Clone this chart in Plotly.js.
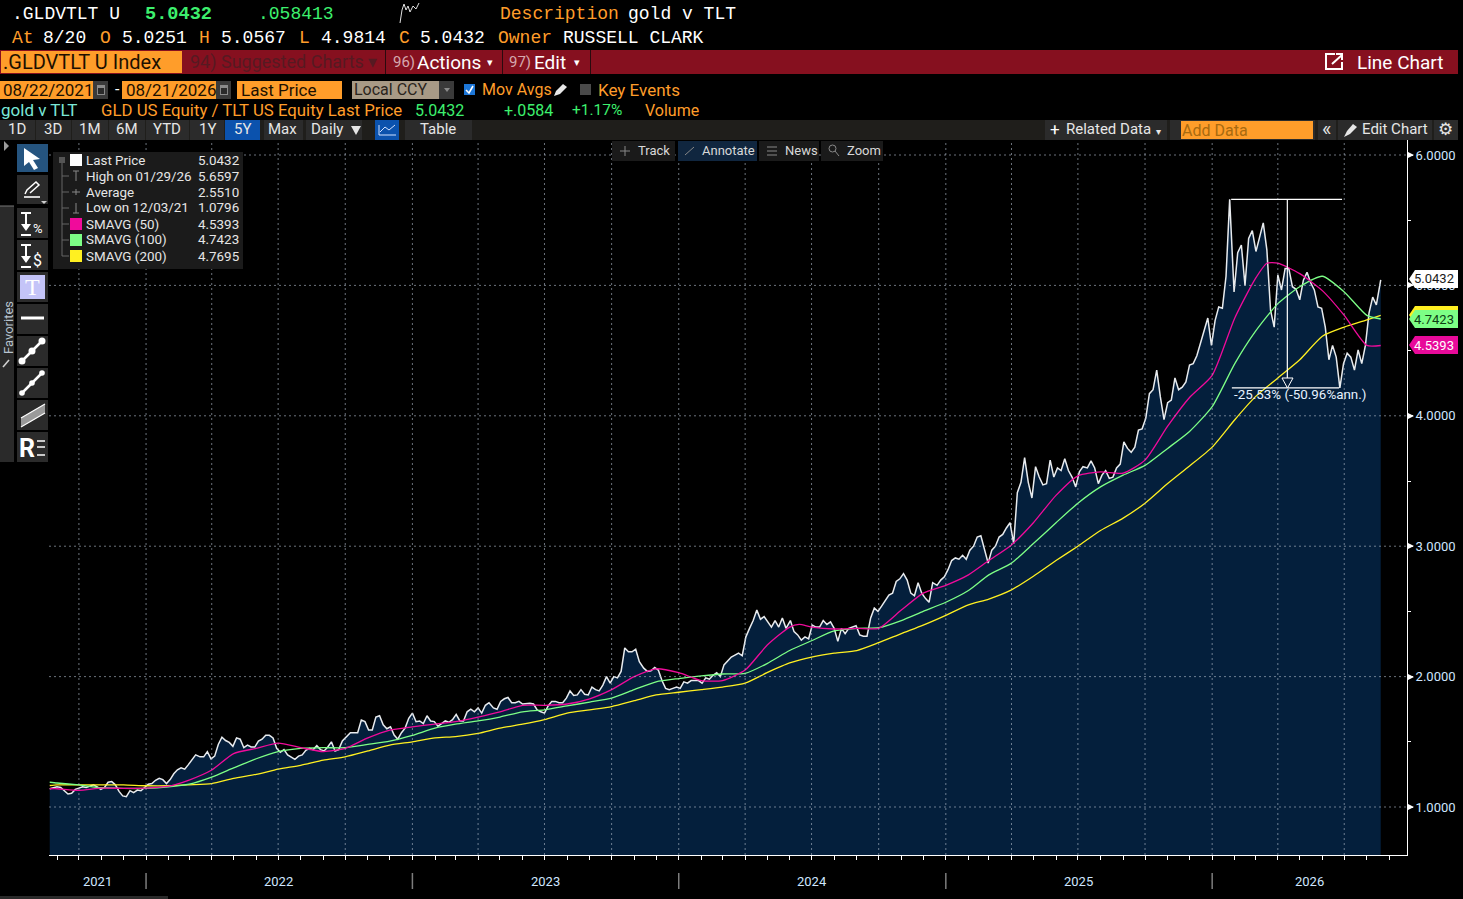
<!DOCTYPE html>
<html><head><meta charset="utf-8">
<script src="https://cdn.plot.ly/plotly-3.0.1.min.js"></script>
<style>html,body{margin:0;padding:0;background:#000;overflow:hidden}#c{width:1463px;height:899px}</style>
</head><body><div id="c"></div>
<script>
const startDate = '2021-08-22', endDate = '2026-08-20';
const priceValues = [
1.14,1.145,1.155,1.15,1.125,1.10,1.105,1.135,1.145,1.155,1.15,1.16,1.17,1.155,1.135,1.15,1.19,1.195,1.17,1.12,1.085,1.0796,1.125,1.11,1.13,1.125,1.15,1.175,1.18,1.205,1.22,1.21,1.18,1.21,1.255,1.285,1.30,1.29,1.325,1.36,1.40,1.385,1.385,1.425,1.37,1.39,1.48,1.535,1.51,1.495,1.465,1.53,1.52,1.455,1.475,1.46,1.46,1.505,1.52,1.55,1.55,1.53,1.45,1.42,1.44,
1.40,1.38,1.365,1.39,1.40,1.435,1.45,1.44,1.47,1.44,1.43,1.46,1.50,1.43,1.44,1.506,1.54,1.57,1.57,1.57,1.667,1.655,1.59,1.59,1.69,1.70,1.63,1.60,1.615,1.552,1.52,1.57,1.605,1.68,1.72,1.654,1.66,1.64,1.70,1.66,1.655,1.62,1.64,1.66,1.65,1.67,1.71,1.66,1.66,1.73,1.75,1.73,1.76,1.72,1.78,1.80,1.76,1.75,1.81,1.83,1.84,1.80,1.80,1.81,
1.79,1.795,1.795,1.79,1.745,1.73,1.72,1.775,1.81,1.81,1.80,1.80,1.835,1.89,1.855,1.86,1.90,1.865,1.86,1.92,1.90,1.89,1.935,2.0,1.95,2.0,1.99,2.04,2.22,2.19,2.19,2.21,2.115,2.065,2.04,2.045,2.07,2.05,1.97,1.91,1.90,1.91,1.92,1.91,1.96,1.95,1.97,1.97,1.97,1.95,1.99,1.98,2.01,2.03,2.0,2.09,2.12,2.15,2.165,2.18,
2.16,2.305,2.37,2.43,2.51,2.44,2.46,2.42,2.38,2.43,2.38,2.45,2.37,2.43,2.345,2.32,2.28,2.305,2.29,2.395,2.38,2.38,2.43,2.40,2.42,2.37,2.27,2.37,2.33,2.37,2.38,2.39,2.32,2.31,2.31,2.45,2.525,2.50,2.54,2.58,2.625,2.64,2.73,2.75,2.79,2.74,2.64,2.62,2.72,2.64,2.60,2.57,2.72,2.70,2.74,2.765,2.82,
2.89,2.91,2.90,2.93,2.90,2.97,3.0,3.07,3.08,2.97,2.87,2.97,3.0,3.07,3.09,3.14,3.18,3.02,3.41,3.49,3.68,3.49,3.37,3.61,3.53,3.47,3.48,3.66,3.53,3.6,3.58,3.67,3.58,3.53,3.455,3.57,3.61,3.60,3.655,3.60,3.48,3.545,3.58,3.52,3.53,3.60,3.63,3.80,3.75,3.72,3.76,3.89,3.90,3.98,4.17,
4.20,4.35,4.145,3.97,4.10,4.12,4.29,4.20,4.22,4.26,4.39,4.40,4.46,4.555,4.66,4.75,4.54,4.73,4.835,4.825,5.07,5.6597,4.95,5.25,5.31,5.00,5.36,5.42,5.26,5.36,5.48,5.27,4.81,4.68,5.08,4.965,5.13,5.13,4.99,4.97,4.89,5.04,5.10,5.02,4.965,4.835,4.825,4.68,4.43,4.54,4.45,4.2148,4.40,4.48,4.45,4.35,4.505,4.40,4.54,4.79,4.91,4.85,5.0432];

const smaDates = ['2021-08-22','2021-09-01','2021-10-01','2021-11-01','2021-12-01',
'2022-01-01','2022-02-01','2022-03-01','2022-04-01','2022-05-01','2022-06-01','2022-07-01','2022-08-01','2022-09-01','2022-10-01','2022-11-01','2022-12-01',
'2023-01-01','2023-02-01','2023-03-01','2023-04-01','2023-05-01','2023-06-01','2023-07-01','2023-08-01','2023-09-01','2023-10-01','2023-11-01','2023-12-01',
'2024-01-01','2024-02-01','2024-03-01','2024-04-01','2024-05-01','2024-06-01','2024-07-01','2024-08-01','2024-09-01','2024-10-01','2024-11-01','2024-12-01',
'2025-01-01','2025-02-01','2025-03-01','2025-04-01','2025-05-01','2025-06-01','2025-07-01','2025-08-01','2025-09-01','2025-10-01','2025-11-01','2025-12-01',
'2026-01-01','2026-02-01','2026-03-01','2026-04-01','2026-05-01','2026-06-01','2026-07-01','2026-08-01','2026-08-20'];
const sma100Values = [1.19,1.184,1.169,1.148,1.143,
1.143,1.155,1.176,1.23,1.30,1.37,1.425,1.45,1.455,1.455,1.48,1.506,
1.55,1.605,1.635,1.66,1.69,1.73,1.745,1.775,1.805,1.835,1.90,1.96,
1.985,2.005,2.02,2.025,2.10,2.20,2.275,2.35,2.37,2.375,2.43,2.50,
2.57,2.66,2.78,2.87,3.02,3.18,3.33,3.455,3.545,3.62,3.75,3.88,
4.07,4.40,4.645,4.86,4.99,5.07,4.95,4.77,4.7423];
const sma200Values = [1.165,1.17,1.17,1.17,1.17,
1.163,1.163,1.17,1.18,1.22,1.25,1.29,1.32,1.36,1.385,1.43,1.475,
1.50,1.53,1.54,1.565,1.605,1.635,1.67,1.72,1.745,1.77,1.815,1.86,
1.88,1.90,1.92,1.95,2.03,2.105,2.15,2.18,2.20,2.26,2.33,2.395,
2.47,2.55,2.595,2.665,2.77,2.89,3.0,3.12,3.215,3.33,3.48,3.615,
3.76,3.97,4.145,4.29,4.43,4.61,4.68,4.735,4.7695];
const sma50Dates = ['2021-08-22','2021-09-01','2021-10-01','2021-11-01','2021-12-01',
'2022-01-01','2022-02-01','2022-03-01','2022-04-01','2022-05-01','2022-06-01','2022-07-01','2022-08-01','2022-09-01','2022-10-01','2022-11-01','2022-12-01',
'2023-01-01','2023-02-01','2023-03-01','2023-04-01','2023-05-01','2023-06-01','2023-07-01','2023-08-01','2023-09-01','2023-10-01','2023-11-01','2023-12-01',
'2024-01-01','2024-02-01','2024-03-01','2024-04-01','2024-05-01','2024-06-01','2024-06-14','2024-07-01','2024-08-01','2024-09-01','2024-10-01','2024-11-01','2024-12-01',
'2025-01-01','2025-02-01','2025-03-01','2025-04-01','2025-05-01','2025-06-01','2025-07-01','2025-08-01','2025-09-01','2025-10-01','2025-11-01','2025-12-01',
'2026-01-01','2026-02-01','2026-03-01','2026-03-17','2026-04-01','2026-05-01','2026-06-01','2026-07-01','2026-08-01','2026-08-20'];
const sma50Values = [1.14,1.14,1.128,1.145,1.143,
1.145,1.16,1.207,1.284,1.41,1.45,1.49,1.455,1.425,1.45,1.53,1.59,
1.615,1.636,1.654,1.69,1.73,1.78,1.78,1.79,1.83,1.90,2.0,2.06,
2.03,1.97,1.97,2.05,2.24,2.38,2.40,2.38,2.365,2.37,2.37,2.51,2.64,
2.70,2.78,2.89,3.01,3.18,3.39,3.54,3.57,3.56,3.66,3.92,4.14,
4.31,4.75,5.05,5.17,5.17,5.09,4.96,4.77,4.54,4.5393];

const yTicks = [1,2,3,4,5,6];
const yTickText = ['1.0000','2.0000','3.0000','4.0000','5.0000','6.0000'];
const quarterGrid = ['2021-10-01','2022-01-01','2022-04-01','2022-07-01','2022-10-01','2023-01-01','2023-04-01','2023-07-01','2023-10-01','2024-01-01','2024-04-01','2024-07-01','2024-10-01','2025-01-01','2025-04-01','2025-07-01','2025-10-01','2026-01-01','2026-04-01','2026-07-01'];
const yearLabels = [['2021','2021-10-27'],['2022','2022-07-01'],['2023','2023-07-03'],['2024','2024-07-02'],['2025','2025-07-02'],['2026','2026-05-14']];
const yearSeparators = ['2022-01-01','2023-01-01','2024-01-01','2025-01-01','2026-01-01'];

const W=1463,H=899;
const px=x=>x/W, py=y=>1-y/H;
const shapes=[], ann=[];
const mono='"Liberation Mono",monospace', narrow='"Liberation Sans Narrow",Roboto,sans-serif', rob='Roboto,sans-serif';
const ORANGE='#ff9d2a', GREEN='#3df06e', BLUE='#cfe6ff';
function R(x0,y0,x1,y1,c,line){shapes.push({type:'rect',xref:'paper',yref:'paper',x0:px(x0),x1:px(x1),y0:py(y0),y1:py(y1),fillcolor:c,line:line?{color:line,width:1}:{width:0},layer:'above'});}
function L(x0,y0,x1,y1,c,w){shapes.push({type:'line',xref:'paper',yref:'paper',x0:px(x0),x1:px(x1),y0:py(y0),y1:py(y1),line:{color:c,width:w||1},layer:'above'});}
function P(pts,fill,line,w,open){const d=pts.map((p,i)=>(i?'L':'M')+px(p[0])+','+py(p[1])).join(' ')+(open?'':' Z');shapes.push({type:'path',xref:'paper',yref:'paper',path:d,fillcolor:open?'rgba(0,0,0,0)':fill,line:line?{color:line,width:w||1}:{width:0},layer:'above'});}
function T(x,y,t,c,s,f,a,o){ann.push(Object.assign({xref:'paper',yref:'paper',x:px(x),y:py(y),text:t,showarrow:false,xanchor:a||'left',yanchor:'middle',font:{color:c,size:s,family:f||narrow},borderpad:0,borderwidth:0},o||{}));}

yTicks.forEach(v=>shapes.push({type:'line',xref:'x domain',yref:'y',x0:0,x1:1,y0:v,y1:v,line:{color:'rgba(175,185,200,.62)',width:1,dash:'2px,3px'},layer:'above'}));
quarterGrid.forEach(d=>shapes.push({type:'line',xref:'x',yref:'y domain',x0:d,x1:d,y0:0,y1:1,line:{color:'rgba(175,185,200,.62)',width:1,dash:'2px,3px'},layer:'above'}));
const ddTop=5.6597, ddLow=4.2148;
[['2026-01-27','2026-06-28',ddTop,ddTop],['2026-01-28','2026-06-24',ddLow,ddLow],['2026-04-14','2026-04-14',ddTop,ddLow]].forEach(a=>shapes.push({type:'line',xref:'x',yref:'y',x0:a[0],x1:a[1],y0:a[2],y1:a[3],line:{color:'#ffffff',width:1.2},layer:'above'}));
P([[1282,378],[1293,378],[1287.5,388]],'#071f3b','#ffffff',1);
ann.push({xref:'x',yref:'y',x:'2026-05-02',y:4.165,text:'-25.53% (-50.96%ann.)',showarrow:false,xanchor:'center',yanchor:'middle',font:{color:'#e6f2ff',size:13.4,family:rob}});
yearLabels.forEach(a=>ann.push({xref:'x',yref:'paper',x:a[1],y:py(881),text:a[0],showarrow:false,xanchor:'center',yanchor:'middle',font:{color:BLUE,size:13,family:rob}}));
yearSeparators.forEach(d=>shapes.push({type:'line',xref:'x',yref:'paper',x0:d,x1:d,y0:py(873),y1:py(889),line:{color:'#7d7d7d',width:1.5},layer:'above'}));
R(0,896,168,899,'#2a2a2a');
[155,285,416,546,677,807].forEach(y=>P([[1408,y-3],[1414,y],[1408,y+3]],'#ffffff'));

// Header text
T(12,14,'.GLDVTLT U','#ffffff',18,mono);
T(145,14,'<b>5.0432</b>',GREEN,18.6,mono);
T(258,14,'.058413',GREEN,18,mono);
P([[400,23],[402,10],[404,4],[406,10],[408,6],[410,12],[413,6],[416,9],[419,3]],null,'#e0e0e0',1,true);
T(500,14,'Description',ORANGE,18,mono);
T(628,14,'gold v TLT','#ffffff',18,mono);
T(12,38,'At',ORANGE,18,mono); T(43,38,'8/20','#ffffff',18,mono);
T(100,38,'O',ORANGE,18,mono); T(122,38,'5.0251','#ffffff',18,mono);
T(199,38,'H',ORANGE,18,mono); T(221,38,'5.0567','#ffffff',18,mono);
T(299,38,'L',ORANGE,18,mono); T(321,38,'4.9814','#ffffff',18,mono);
T(399,38,'C',ORANGE,18,mono); T(420,38,'5.0432','#ffffff',18,mono);
T(498,38,'Owner',ORANGE,18,mono); T(563,38,'RUSSELL CLARK','#ffffff',18,mono);

// Red bar
R(0,50,1458,74,'#86101f');
R(1,51,182,73,ORANGE);
T(3,62.5,'.GLDVTLT U Index','#1d1000',20);
T(190,62,'94) Suggested Charts ▾','#561a22',18);
L(385.5,50,385.5,74,'#2a0a0e',1); L(502.5,50,502.5,74,'#2a0a0e',1); L(590.5,50,590.5,74,'#2a0a0e',1);
T(393,62,'96)','#d5a8ae',15); T(417,62,'Actions','#ffffff',19); T(487,63,'▾','#ffffff',11);
T(509,62,'97)','#d5a8ae',15); T(534,62,'Edit','#ffffff',19); T(574,63,'▾','#ffffff',11);
P([[1335,54],[1326,54],[1326,69],[1342,69],[1342,62]],null,'#ffffff',2,true);
P([[1332,64],[1342,55]],null,'#ffffff',2,true);P([[1336,54],[1342,54],[1342,60]],null,'#ffffff',2,true);
T(1357,62,'Line Chart','#ffffff',19);

// Date row
R(0,81,93,99,ORANGE); R(93,81,108,99,'#3a3a3a'); R(97,85,105,95,'#8a8a8a'); R(98,88,104,94,'#2a2a2a');
T(117,90,'-','#ffffff',16,narrow,'center');
R(122,81,216,99,ORANGE); R(216,81,231,99,'#3a3a3a'); R(220,85,228,95,'#8a8a8a'); R(221,88,227,94,'#2a2a2a');
T(3,90,'08/22/2021','#1d1000',17); T(126,90,'08/21/2026','#1d1000',17);
R(237,81,342,99,ORANGE); T(241,90,'Last Price','#1d1000',17);
R(352,81,439,99,'#a89a86'); T(354,90,'Local CCY','#2a241c',16);
R(439,81,454,99,'#3a3a3a'); P([[444,88],[450,88],[447,92]],'#8a8a8a');
R(464,84,475,95,'#1d77d8'); P([[466,90],[469,93],[473,86]],null,'#ffffff',1.6,true);
T(482,90,'Mov Avgs',ORANGE,16);
P([[554,96],[556,91],[563,84],[567,87],[560,94]],'#e8e8e8');
R(580,84,591,95,'#4a4a4a');
T(598,90,'Key Events',ORANGE,17);
// Row 3
T(1,110,'gold v TLT','#7be8d8',17);
T(101,110,'GLD US Equity / TLT US Equity Last Price',ORANGE,16.8);
T(415,110,'5.0432',GREEN,16); T(504,110,'+.0584',GREEN,16); T(572,110,'+1.17%',GREEN,15.5);
T(645,110,'Volume',ORANGE,16);
// Toolbar
R(0,120,1458,140,'#1f1e1b');
[[0,35],[36,71],[72,108],[109,145],[146,189],[190,224],[264,303],[306,362],[405,472],[1045,1167],[1170,1315],[1318,1336],[1338,1432],[1434,1458]].forEach(b=>R(b[0],120,b[1],140,'#2b2b2b'));
R(225,120,260,140,'#0b52ad'); R(375,120,399,140,'#0b52ad');
[['1D',17],['3D',53],['1M',90],['6M',127],['YTD',167],['1Y',207],['5Y',242],['Max',282],['Table',438]].forEach(a=>T(a[1],129.5,a[0],'#e6e6e6',15,narrow,'center'));
T(311,129.5,'Daily','#e6e6e6',15); P([[351,126],[361,126],[356,135]],'#e6e6e6');
P([[379,125],[379,135],[396,135]],null,'#cfe0ff',1,true); P([[380,132],[385,127],[389,130],[395,125]],null,'#cfe0ff',1,true);
T(1050,129.5,'+','#ffffff',17); T(1066,129.5,'Related Data','#e6e6e6',15); T(1156,131,'▾','#e6e6e6',10);
R(1181,121,1313,139,ORANGE); T(1182,130,'Add Data','#a86a10',16);
T(1326,129,'«','#e6e6e6',20,rob,'center');
P([[1344,137],[1347,131],[1353,124],[1357,127],[1350,134]],'#e6e6e6');
T(1362,129.5,'Edit Chart','#e6e6e6',15);
T(1445,129,'⚙','#e6e6e6',17,'"DejaVu Sans"','center');
// Track bar
R(612,141,675,161,'#1a1a1a'); R(678,141,757,161,'#10263f'); R(759,141,819,161,'#1a1a1a'); R(821,141,883,161,'#1a1a1a');
T(638,150.5,'Track','#d8d8d8',13,rob); T(702,150.5,'Annotate','#d8d8d8',13,rob); T(785,150.5,'News','#d8d8d8',13,rob); T(847,150.5,'Zoom','#d8d8d8',13,rob);
L(620,151,630,151,'#888');L(625,146,625,156,'#888');
L(685,155,694,147,'#888');
[147,151,155].forEach(y=>L(767,y,777,y,'#888'));
shapes.push({type:'circle',xref:'paper',yref:'paper',x0:px(829),x1:px(836),y0:py(145),y1:py(152),fillcolor:'rgba(0,0,0,0)',line:{color:'#888',width:1},layer:'above'});L(835,151,839,156,'#888');

// Legend
R(53,152,243,269,'#1b1b1b');
L(62,162,62,256,'#666');
const legY=[160,176,192,208,224,240,256];
R(59,157,65,163,'#555');
legY.slice(1).forEach(y=>L(62,y,69,y,'#666'));
R(70,154,82,166,'#ffffff'); R(70,218,82,230,'#f00b9b'); R(70,234,82,246,'#7dff86'); R(70,250,82,262,'#fff021');
L(76,171,76,181,'#888');L(73,171,79,171,'#888');
L(72,192,80,192,'#888');L(76,189,76,195,'#888');
L(76,203,76,213,'#888');L(73,213,79,213,'#888');
[['Last Price','5.0432'],['High on 01/29/26','5.6597'],['Average','2.5510'],['Low on 12/03/21','1.0796'],['SMAVG (50)','4.5393'],['SMAVG (100)','4.7423'],['SMAVG (200)','4.7695']].forEach((r,i)=>{T(86,legY[i],r[0],'#e6e6e6',13.4);T(198,legY[i],r[1],'#e6e6e6',13.4);});

// Left tools
P([[4,141],[9,146],[4,151]],'#9a9a9a');
R(0,206,14,462,'#2a2a2a'); L(0,206,14,206,'#777',1);
T(8,328,'Favorites','#b8c4d0',13,rob,'center',{textangle:-90});
P([[3,367],[9,360]],null,'#d0d0d0',1.6,true);
[[144,172,'#25547f'],[175,204,'#2b2b2b'],[208,238,'#2b2b2b'],[240,270,'#2b2b2b'],[272,302,'#2b2b2b'],[304,334,'#2b2b2b'],[336,366,'#2b2b2b'],[368,398,'#2b2b2b'],[400,430,'#2b2b2b'],[432,462,'#2b2b2b']].forEach(b=>R(17,b[0],48,b[1],b[2]));
P([[24,148],[24,166],[29,162],[34,170],[38,168],[33,160],[40,159]],'#ffffff');
P([[25,194],[27,190],[36,182],[39,185],[30,193]],null,'#ffffff',1.5,true); L(24,197,40,197,'#ffffff',1.6);
P([[41,201],[47,201],[44,204]],'#cccccc');
[[211,'%'],[243,'$']].forEach(a=>{const y=a[0];L(21,y+2,31,y+2,'#fff',2);L(26,y+2,26,y+13,'#fff',2);P([[21,y+13],[31,y+13],[26,y+20]],'#fff');L(21,y+24,31,y+24,'#fff',2);T(33,y+17,a[1],'#fff',a[1]=='$'?16:13,rob);});
R(20,275,45,299,'#c4c4f8'); T(32.5,287,'T','#ffffff',24,'"Liberation Serif",serif','center');
L(21,318,44,318,'#fff',3);
function nodes(y,r){L(22,y+10,42,y-10,'#fff',2.5);[[22,y+10],[32,y],[42,y-10]].forEach(p=>shapes.push({type:'circle',xref:'paper',yref:'paper',x0:px(p[0]-r),x1:px(p[0]+r),y0:py(p[1]-r),y1:py(p[1]+r),fillcolor:'#fff',line:{width:0},layer:'above'}));}
nodes(351,3.5); nodes(383,2.8);
P([[21,418],[45,404],[45,413],[21,427]],'#9a9a9a'); L(21,418,45,404,'#fff',1.2); L(21,427,45,413,'#fff',1.2);
T(19,448,'<b>R</b>','#ffffff',25,rob);
[441,447,455].forEach(y=>L(37,y,45,y,'#fff',1.5));

// Right value tags
function tag(yTop,c,fg,t){const m=(yTop+yTop+18)/2;P([[1415,yTop],[1458,yTop],[1458,yTop+18],[1415,yTop+18],[1409,m]],c);if(t)T(1414,m,t,fg,13,rob);}
tag(270,'#ffffff','#1a1a1a','5.0432');
tag(306,'#fff021','#000','');
tag(310,'#7dff86','#0d3d14','4.7423');
tag(336,'#e80a9a','#ffffff','4.5393');

const n=priceValues.length;
const t0=Date.parse(startDate), t1=Date.parse(endDate);
const priceDates=priceValues.map((_,i)=>new Date(t0+(t1-t0)*i/(n-1)).toISOString().slice(0,10));

const data=[
 {type:'scatter',mode:'lines',x:priceDates,y:priceValues,name:'Last Price',line:{color:'#e8ebee',width:1.5},fill:'tozeroy',fillcolor:'#041f3c',hoverinfo:'skip'},
 {type:'scatter',mode:'lines',x:smaDates,y:sma200Values,name:'SMAVG (200)',line:{color:'#fff021',width:1.3,shape:'spline',smoothing:.6},hoverinfo:'skip'},
 {type:'scatter',mode:'lines',x:smaDates,y:sma100Values,name:'SMAVG (100)',line:{color:'#7dff86',width:1.3,shape:'spline',smoothing:.6},hoverinfo:'skip'},
 {type:'scatter',mode:'lines',x:sma50Dates,y:sma50Values,name:'SMAVG (50)',line:{color:'#f00b9b',width:1.3,shape:'spline',smoothing:.6},hoverinfo:'skip'}
];
const layout={
 width:W,height:H,margin:{l:0,r:0,t:0,b:0,pad:0},paper_bgcolor:'#000',plot_bgcolor:'#000',showlegend:false,
 font:{family:rob,color:BLUE,size:13},
 xaxis:{type:'date',domain:[px(49),px(1407)],range:['2021-08-21','2026-09-25'],showgrid:false,zeroline:false,
   showline:true,linecolor:'#fff',linewidth:1,ticks:'outside',tickcolor:'#fff',ticklen:4,tickwidth:1,tick0:'2021-09-01',dtick:'M1',showticklabels:false,anchor:'y'},
 yaxis:{side:'right',domain:[1-855/H,1-140/H],range:[0.632,6.115],showgrid:false,zeroline:false,showline:true,linecolor:'#fff',linewidth:1,
   tickmode:'array',tickvals:yTicks,ticktext:yTickText,ticks:'outside',ticklen:5,tickcolor:'#fff',tickwidth:1,tickfont:{color:BLUE,size:13,family:rob},
   minor:{tickmode:'linear',tick0:0.5,dtick:1,ticks:'outside',ticklen:3,tickcolor:'#fff'},anchor:'x'},
 shapes:shapes,annotations:ann
};
Plotly.newPlot('c',data,layout,{displayModeBar:false,staticPlot:true});
</script></body></html>
